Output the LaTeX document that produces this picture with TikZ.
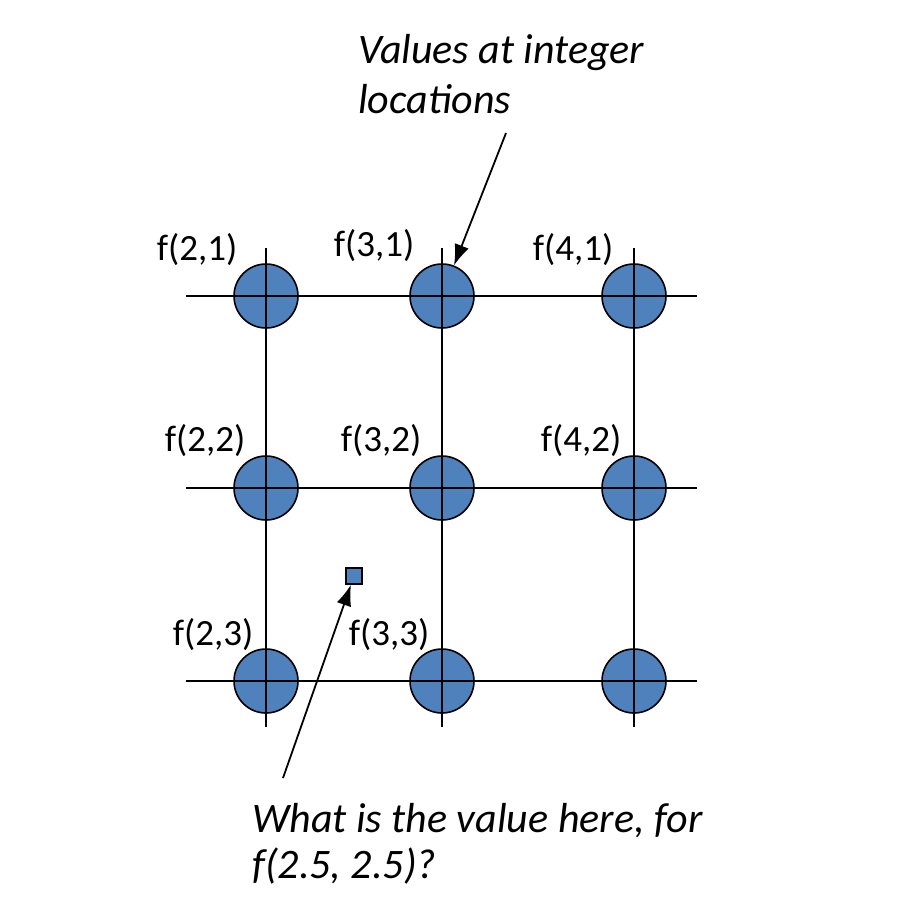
\documentclass[tikz,border=0pt]{standalone}
\usepackage{fontspec}
\setmainfont{Carlito}
\usetikzlibrary{arrows.meta, positioning}
\definecolor{dotblue}{HTML}{4F81BD}

\begin{document}
\begin{tikzpicture}[x=1pt, y=-1pt,
        dot/.style={circle, draw, line width=1.6pt, fill=dotblue, minimum size=64pt, inner sep=0pt},
        probe/.style={rectangle, draw, line width=1.5pt, fill=dotblue, minimum size=16pt, inner sep=0pt},
        lbl/.style={font=\fontsize{37}{42}\selectfont, inner sep=0pt},
        note/.style={font=\fontsize{42}{50}\selectfont\itshape, align=left, inner sep=0pt, anchor=north west},
        gridline/.style={line width=1.6pt},
        arr/.style={-{Latex[length=21pt, width=15pt]}, line width=1.8pt}
    ]
    \useasboundingbox (0,0) rectangle (918,914);

    % sample points
    \node[dot] (n21) at (266,296) {};
    \node[dot] (n31) at (442,296) {};
    \node[dot] (n41) at (634,296) {};
    \node[dot] (n22) at (266,488) {};
    \node[dot] (n32) at (442,488) {};
    \node[dot] (n42) at (634,488) {};
    \node[dot] (n23) at (266,681) {};
    \node[dot] (n33) at (442,681) {};
    \node[dot] (n43) at (634,681) {};
    \node[probe] (probe) at (354,576) {};

    % grid lines
    \foreach \x/\c in {266/2, 442/3, 634/4} {
        \coordinate (top\c) at (\x,248);
        \coordinate (bot\c) at (\x,727);
        \draw[gridline] (top\c) -- (bot\c);
    }
    \foreach \y/\r in {296/1, 488/2, 681/3} {
        \coordinate (left\r) at (186,\y);
        \coordinate (right\r) at (697,\y);
        \draw[gridline] (left\r) -- (right\r);
    }

    % labels
    \node[lbl] (l21) at (197,250) {f(2,1)};
    \node[lbl] (l31) at (374,246) {f(3,1)};
    \node[lbl] (l41) at (573,250) {f(4,1)};
    \node[lbl] (l22) at (205,441) {f(2,2)};
    \node[lbl] (l32) at (381,441) {f(3,2)};
    \node[lbl] (l42) at (581,441) {f(4,2)};
    \node[lbl] (l23) at (213,635) {f(2,3)};
    \node[lbl] (l33) at (389,635) {f(3,3)};

    \node[note] (topnote) at (358,34) {Values at integer\\locations};
    \node[note, font=\fontsize{42}{46}\selectfont\itshape] (botnote) at (252,803) {What is the value here, for\\f(2.5, 2.5)?};

    \coordinate (vstart) at (506,133);
    \coordinate (qstart) at (283,778);
    \draw[arr] (vstart) -- (n31);
    \draw[arr] (qstart) -- (probe);

\end{tikzpicture}
\end{document}
